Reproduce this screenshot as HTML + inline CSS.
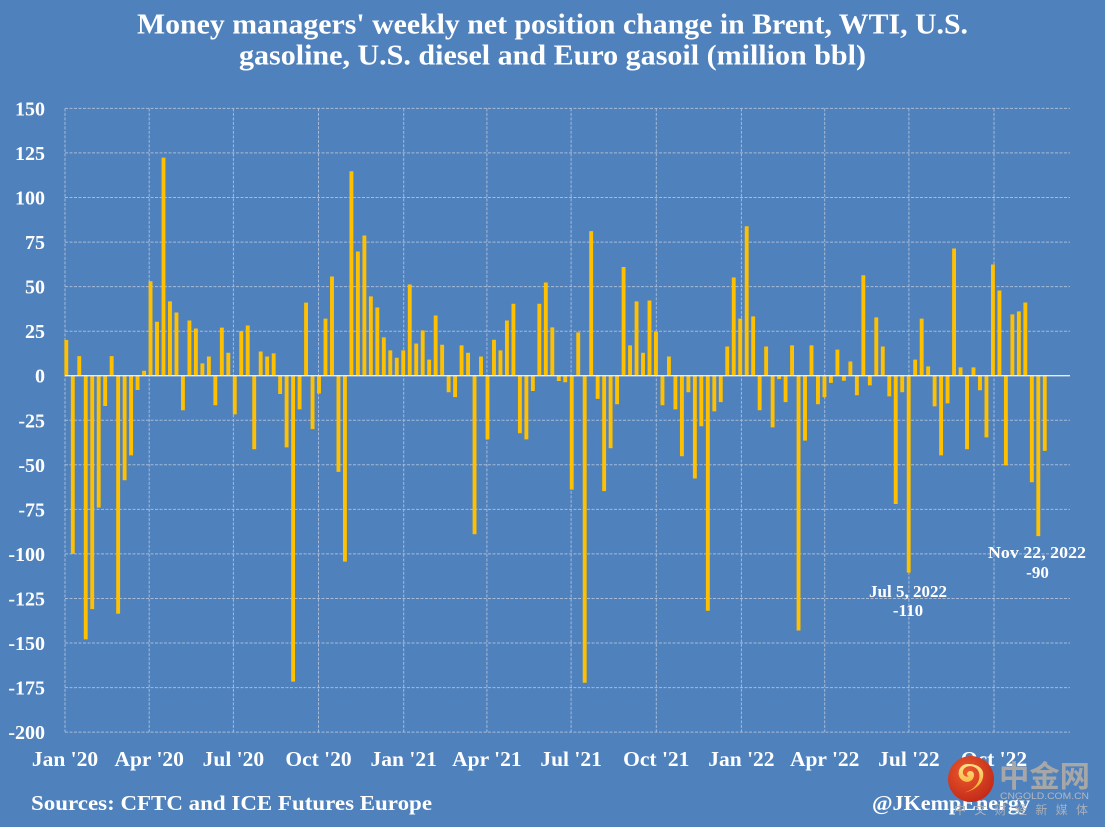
<!DOCTYPE html>
<html>
<head>
<meta charset="utf-8">
<style>
  html, body { margin:0; padding:0; }
  body { width:1105px; height:827px; background:#4F81BD; overflow:hidden; }
  svg { display:block; }
  .t { font-family:"Liberation Serif", serif; font-weight:bold; fill:#FFFFFF; }
</style>
</head>
<body>
<svg width="1105" height="827" viewBox="0 0 1105 827" xmlns="http://www.w3.org/2000/svg">
  <defs>
    <radialGradient id="rg" cx="0.4" cy="0.35" r="0.7">
      <stop offset="0" stop-color="#EC5A2C"/>
      <stop offset="1" stop-color="#C12818"/>
    </radialGradient>
    <linearGradient id="yg" x1="0" y1="0" x2="0" y2="1">
      <stop offset="0" stop-color="#FFE48A"/>
      <stop offset="1" stop-color="#F4A21E"/>
    </linearGradient>
  </defs>
  <rect x="0" y="0" width="1105" height="827" fill="#4F81BD"/>

  <!-- Title -->
  <text class="t" x="137" y="33.5" font-size="28" textLength="831" lengthAdjust="spacingAndGlyphs">Money managers' weekly net position change in Brent, WTI, U.S.</text>
  <text class="t" x="239" y="64.5" font-size="28" textLength="627" lengthAdjust="spacingAndGlyphs">gasoline, U.S. diesel and Euro gasoil (million bbl)</text>

  <!-- Horizontal grid -->
  <g stroke="#A6B9D6" stroke-width="1" stroke-dasharray="3 1.5" fill="none">
    <line x1="65" y1="108.4" x2="1070" y2="108.4"/>
    <line x1="65" y1="152.9" x2="1070" y2="152.9"/>
    <line x1="65" y1="197.5" x2="1070" y2="197.5"/>
    <line x1="65" y1="242.1" x2="1070" y2="242.1"/>
    <line x1="65" y1="286.6" x2="1070" y2="286.6"/>
    <line x1="65" y1="331.2" x2="1070" y2="331.2"/>
    <line x1="65" y1="420.3" x2="1070" y2="420.3"/>
    <line x1="65" y1="464.8" x2="1070" y2="464.8"/>
    <line x1="65" y1="509.4" x2="1070" y2="509.4"/>
    <line x1="65" y1="553.9" x2="1070" y2="553.9"/>
    <line x1="65" y1="598.5" x2="1070" y2="598.5"/>
    <line x1="65" y1="643" x2="1070" y2="643"/>
    <line x1="65" y1="687.6" x2="1070" y2="687.6"/>
    <line x1="65" y1="732.1" x2="1070" y2="732.1"/>
  </g>
  <!-- Vertical grid -->
  <g stroke="#A6B9D6" stroke-width="1" stroke-dasharray="3 1.5" fill="none">
    <line x1="65" y1="108.4" x2="65" y2="732.1"/>
    <line x1="149.2" y1="108.4" x2="149.2" y2="732.1"/>
    <line x1="233.4" y1="108.4" x2="233.4" y2="732.1"/>
    <line x1="318.5" y1="108.4" x2="318.5" y2="732.1"/>
    <line x1="403.7" y1="108.4" x2="403.7" y2="732.1"/>
    <line x1="486.9" y1="108.4" x2="486.9" y2="732.1"/>
    <line x1="571.1" y1="108.4" x2="571.1" y2="732.1"/>
    <line x1="656.3" y1="108.4" x2="656.3" y2="732.1"/>
    <line x1="741.4" y1="108.4" x2="741.4" y2="732.1"/>
    <line x1="824.7" y1="108.4" x2="824.7" y2="732.1"/>
    <line x1="908.9" y1="108.4" x2="908.9" y2="732.1"/>
    <line x1="994" y1="108.4" x2="994" y2="732.1"/>
  </g>

  <!-- Bars -->
  <g transform="matrix(6.48 0 0 -1.782 66.3 375.7)">
    <path fill="none" stroke="#FFC000" stroke-width="0.6" stroke-linecap="butt" d="M0 0V20M1 0V-100M2 0V11M3 0V-148M4 0V-131M5 0V-74M6 0V-17M7 0V11M8 0V-133.6M9 0V-58.7M10 0V-44.7M11 0V-8M12 0V2.8M13 0V53M14 0V30.3M15 0V122.4M16 0V41.7M17 0V35.5M18 0V-19.4M19 0V31M20 0V26.5M21 0V6.9M22 0V10.8M23 0V-16.6M24 0V27M25 0V12.9M26 0V-21.7M27 0V25M28 0V28.2M29 0V-41.3M30 0V13.6M31 0V10.8M32 0V12.5M33 0V-10.3M34 0V-40.2M35 0V-171.7M36 0V-18.9M37 0V41M38 0V-30M39 0V-10M40 0V32M41 0V55.7M42 0V-54M43 0V-104.3M44 0V114.7M45 0V69.7M46 0V78.7M47 0V44.5M48 0V38.3M49 0V21.5M50 0V14.2M51 0V10.1M52 0V14.2M53 0V51.2M54 0V18.1M55 0V25.4M56 0V9M57 0V33.8M58 0V17.4M59 0V-9.3M60 0V-12M61 0V17M62 0V12.9M63 0V-89M64 0V10.8M65 0V-35.7M66 0V20.2M67 0V14.2M68 0V31M69 0V40.4M70 0V-32.3M71 0V-35.7M72 0V-8.6M73 0V40.4M74 0V52.3M75 0V27.1M76 0V-3M77 0V-3.7M78 0V-63.9M79 0V24.3M80 0V-172.3M81 0V81.1M82 0V-13M83 0V-64.8M84 0V-40.7M85 0V-16M86 0V61M87 0V17M88 0V41.7M89 0V12.9M90 0V42.2M91 0V24.7M92 0V-16.6M93 0V10.8M94 0V-18.9M95 0V-45.2M96 0V-9.3M97 0V-57.7M98 0V-28.4M99 0V-131.9M100 0V-20M101 0V-14.8M102 0V16.4M103 0V55.1M104 0V32M105 0V83.9M106 0V33.3M107 0V-19.4M108 0V16.4M109 0V-29M110 0V-1.9M111 0V-14.8M112 0V17M113 0V-143M114 0V-36.4M115 0V17M116 0V-16M117 0V-12M118 0V-4M119 0V14.6M120 0V-2.8M121 0V8M122 0V-11M123 0V56.4M124 0V-5.4M125 0V32.7M126 0V16.4M127 0V-11.6M128 0V-72M129 0V-9.3M130 0V-110.5M131 0V9M132 0V32M133 0V5.2M134 0V-17.2M135 0V-44.7M136 0V-15.5M137 0V71.4M138 0V4.7M139 0V-41.3M140 0V4.7M141 0V-8.2M142 0V-34.6M143 0V62.4M144 0V47.8M145 0V-50.3M146 0V34.4M147 0V36.1M148 0V41.1M149 0V-59.8M150 0V-90M151 0V-42.2"/>
  </g>

  <!-- Zero line -->
  <line x1="65" y1="375.7" x2="1070" y2="375.7" stroke="#E6ECF5" stroke-width="1.3"/>

  <!-- Y labels -->
  <g class="t" font-size="20" text-anchor="end">
    <text x="45" y="115.4">150</text>
    <text x="45" y="159.9">125</text>
    <text x="45" y="204.5">100</text>
    <text x="45" y="249.1">75</text>
    <text x="45" y="293.6">50</text>
    <text x="45" y="338.2">25</text>
    <text x="45" y="382.7">0</text>
    <text x="45" y="427.3">-25</text>
    <text x="45" y="471.8">-50</text>
    <text x="45" y="516.4">-75</text>
    <text x="45" y="560.9">-100</text>
    <text x="45" y="605.5">-125</text>
    <text x="45" y="650">-150</text>
    <text x="45" y="694.6">-175</text>
    <text x="45" y="739.1">-200</text>
  </g>

  <!-- X labels -->
  <g class="t" font-size="21.5" text-anchor="middle">
    <text x="65" y="766">Jan '20</text>
    <text x="149.2" y="766">Apr '20</text>
    <text x="233.4" y="766">Jul '20</text>
    <text x="318.5" y="766">Oct '20</text>
    <text x="403.7" y="766">Jan '21</text>
    <text x="486.9" y="766">Apr '21</text>
    <text x="571.1" y="766">Jul '21</text>
    <text x="656.3" y="766">Oct '21</text>
    <text x="741.4" y="766">Jan '22</text>
    <text x="824.7" y="766">Apr '22</text>
    <text x="908.9" y="766">Jul '22</text>
    <text x="994" y="766">Oct '22</text>
  </g>

  <!-- Annotations -->
  <text class="t" x="869" y="597" font-size="17" textLength="78" lengthAdjust="spacingAndGlyphs">Jul 5, 2022</text>
  <text class="t" x="908" y="616" font-size="17" text-anchor="middle">-110</text>
  <text class="t" x="988" y="558" font-size="17" textLength="98" lengthAdjust="spacingAndGlyphs">Nov 22, 2022</text>
  <text class="t" x="1037.5" y="578" font-size="17" text-anchor="middle">-90</text>

  <!-- Footer -->
  <text class="t" x="31" y="810" font-size="21" textLength="401" lengthAdjust="spacingAndGlyphs">Sources: CFTC and ICE Futures Europe</text>
  <text class="t" x="872" y="810" font-size="21" textLength="158" lengthAdjust="spacingAndGlyphs">@JKempEnergy</text>

  <!-- Watermark -->
  <circle cx="971" cy="779" r="23" fill="url(#rg)"/>
  <path d="M968 764 C958 764 956 776 962 780 C967 784 974 781 974 775 C974 771 970 770 968 772 C966 774 967 776 969 776 C966 778 962 775 963 771 C964 766 972 764 977 769 C983 776 978 790 962 793 C975 791 985 783 983 772 C981 766 975 764 968 764 Z" fill="url(#yg)"/>
  <text x="999" y="787" font-family="'Noto Sans CJK SC', 'WenQuanYi Zen Hei', sans-serif" font-weight="bold" font-size="30" fill="#A7A7A7" textLength="91" lengthAdjust="spacingAndGlyphs">中金网</text>
  <text x="1000" y="799" font-family="'Liberation Sans', sans-serif" font-size="9.5" fill="#B4B8BE" textLength="89" lengthAdjust="spacingAndGlyphs">CNGOLD.COM.CN</text>
  <text x="954" y="814" font-family="'Liberation Sans', 'Noto Sans CJK SC', sans-serif" font-size="12" fill="#A9AFB8" textLength="134" lengthAdjust="spacing">中 文 财 经 新 媒 体</text>
</svg>
</body>
</html>
